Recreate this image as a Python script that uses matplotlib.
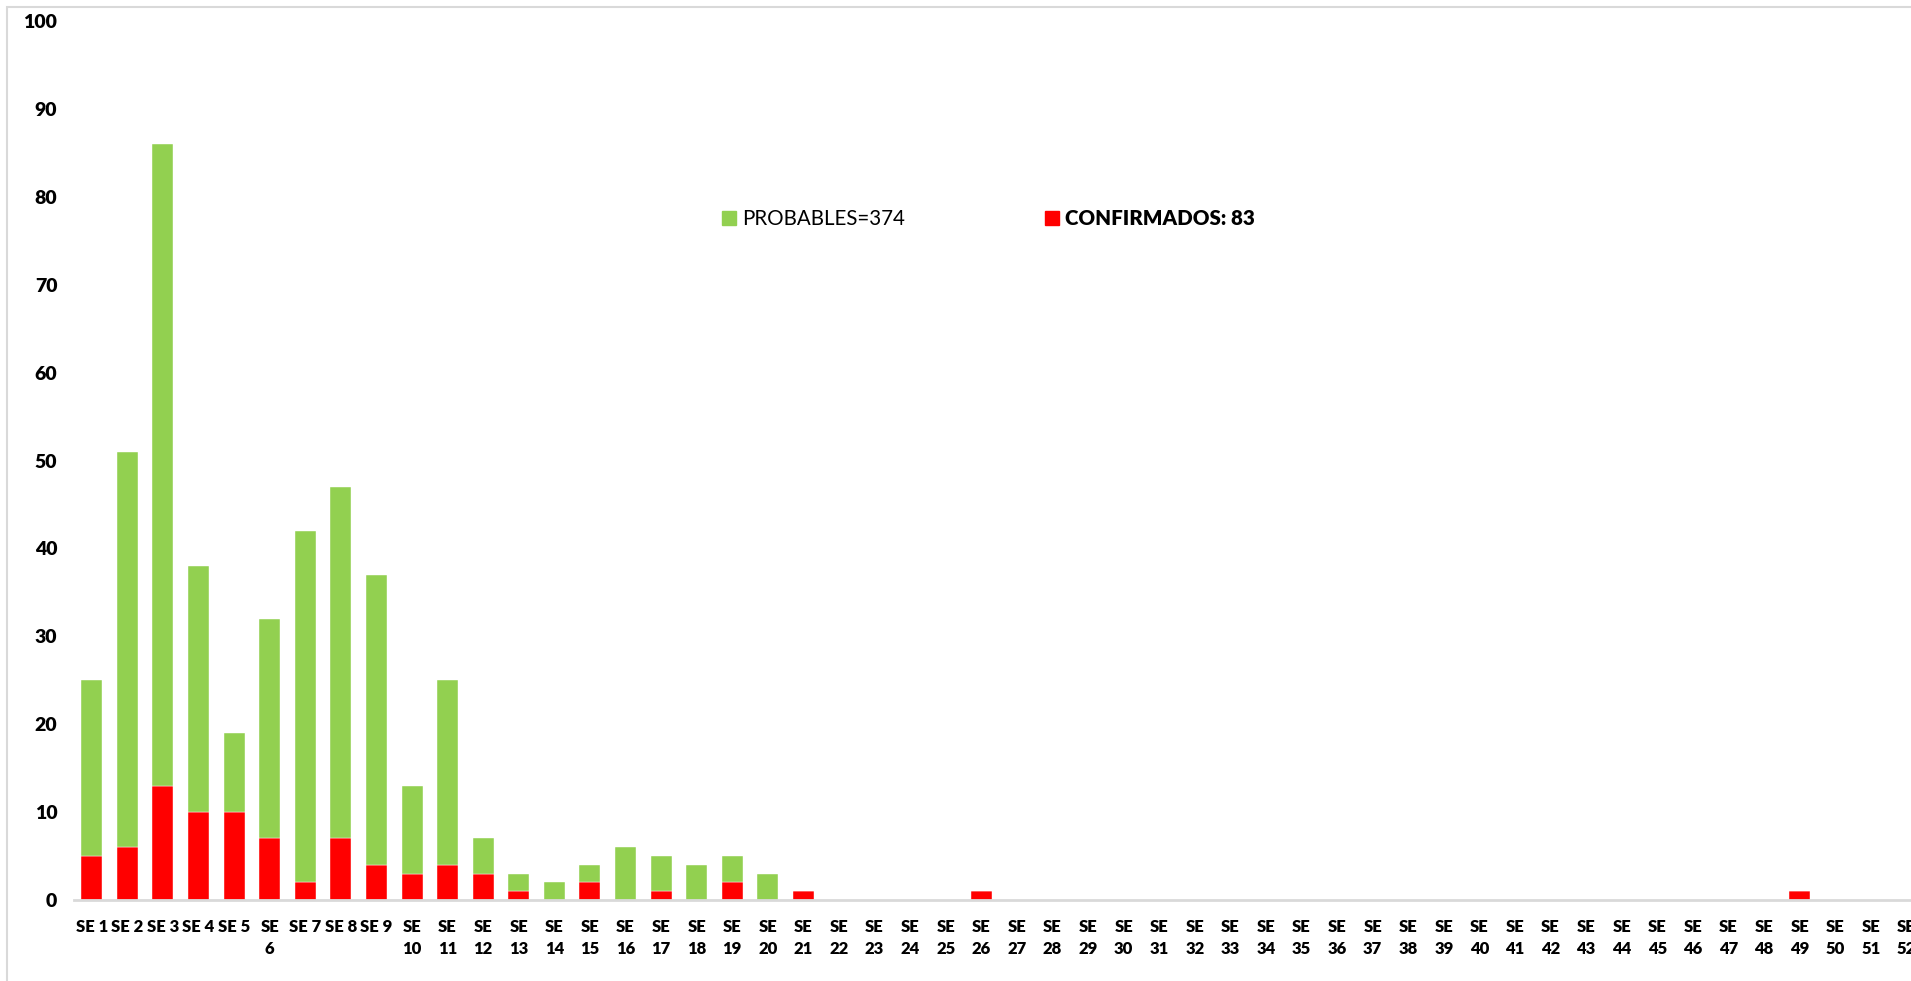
import matplotlib.pyplot as plt
from matplotlib.patches import Patch, Rectangle
import numpy as np

plt.rcParams['font.family'] = ['Lato', 'DejaVu Sans']

semanas = [f"SE {i}" for i in range(1, 53)]
# label wrapping as in the original
etiquetas = [s if i in (1, 2, 3, 4, 5, 7, 8, 9) else s.replace(" ", "\n")
             for i, s in enumerate(semanas, start=1)]

confirmados = [5, 6, 13, 10, 10, 7, 2, 7, 4, 3, 4, 3, 1, 0, 2, 0, 1, 0, 2, 0,
               1, 0, 0, 0, 0, 1, 0, 0, 0, 0, 0, 0, 0, 0, 0, 0, 0, 0, 0, 0,
               0, 0, 0, 0, 0, 0, 0, 0, 1, 0, 0, 0]
probables = [20, 45, 73, 28, 9, 25, 40, 40, 33, 10, 21, 4, 2, 2, 2, 6, 4, 4, 3, 3,
             0, 0, 0, 0, 0, 0, 0, 0, 0, 0, 0, 0, 0, 0, 0, 0, 0, 0, 0, 0,
             0, 0, 0, 0, 0, 0, 0, 0, 0, 0, 0, 0]

verde = '#92D050'
rojo = '#FF0000'

W, H = 1911, 981
fig = plt.figure(figsize=(W / 100, H / 100), dpi=100)

# light chart border
fig.patches.append(Rectangle((7 / W, -0.1), 1.2, 1 - 7 / H + 0.1, transform=fig.transFigure,
                             fill=False, edgecolor='#d9d9d9', linewidth=1.5))

step = 35.58
left = 74
ax = fig.add_axes([left / W, (H - 900) / H, 52 * step / W, (900 - 21) / H])

x = np.arange(len(semanas))
ax.bar(x, confirmados, width=0.59, color=rojo, edgecolor='white', linewidth=0.3)
ax.bar(x, probables, width=0.59, bottom=confirmados, color=verde,
       edgecolor='white', linewidth=0.3)

ax.set_xlim(-0.5, len(semanas) - 0.5)
ax.set_ylim(0, 100)
ax.set_yticks(range(0, 101, 10))
ax.set_xticks(x)
ax.set_xticklabels(etiquetas, fontsize=12, fontweight='heavy', va='top', linespacing=1.45)
ax.tick_params(axis='y', labelsize=14, length=0, pad=12)
for t in ax.get_yticklabels():
    t.set_fontweight('heavy')
ax.tick_params(axis='x', length=0, pad=14)

for s in ['left', 'right', 'top']:
    ax.spines[s].set_visible(False)
ax.spines['bottom'].set_color('#d9d9d9')
ax.spines['bottom'].set_linewidth(2)
ax.patch.set_visible(False)

handles = [Patch(color=verde), Patch(color=rojo)]
leg = fig.legend(handles, ['PROBABLES=374', 'CONFIRMADOS: 83'], ncol=2, frameon=False,
                 loc='center left', bbox_to_anchor=(703 / W, 1 - 219 / H),
                 fontsize=14.8, handlelength=0.7, handleheight=0.7,
                 handletextpad=0.3, columnspacing=6.8)
leg.get_texts()[1].set_fontweight('heavy')

fig.savefig('out.png', dpi=100)
